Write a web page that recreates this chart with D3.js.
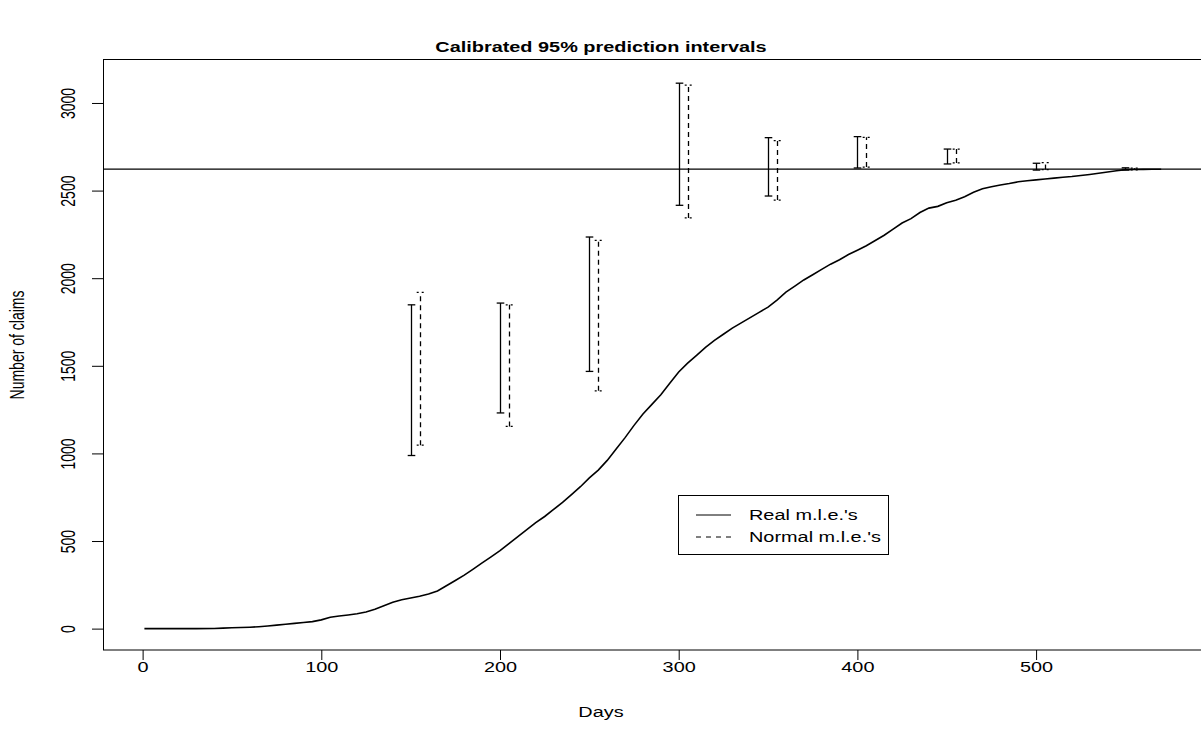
<!DOCTYPE html>
<html><head><meta charset="utf-8">
<script src="https://cdn.jsdelivr.net/npm/d3@7"></script>
<style>body{margin:0;background:#fff}svg{display:block}text{font-family:"Liberation Sans",Arial,sans-serif;fill:#000}</style>
</head><body>
<svg id="chart" width="1201" height="729"></svg>
<script>
// Cumulative claims curve
const days = [1,10,20,30,40,45,50,55,60,65,70,75,80,85,90,95,100,105,110,115,120,125,130,135,140,145,150,155,160,165,170,175,180,185,190,195,200,205,210,215,220,225,230,235,240,245,250,255,260,265,270,275,280,285,290,295,300,305,310,315,320,325,330,335,340,345,350,355,360,365,370,375,380,385,390,395,400,405,410,415,420,425,430,435,440,445,450,455,460,465,470,475,480,485,490,495,500,505,510,515,520,525,530,535,540,545,550,555,560,565,570];
const claims = [0,0,0,0,1,3,5,6,8,11,15,20,25,30,35,40,50,65,72,78,85,95,110,130,150,165,175,185,197,215,245,275,305,340,375,410,445,485,525,565,605,640,680,720,765,810,860,905,960,1025,1090,1160,1225,1280,1335,1400,1465,1515,1560,1605,1645,1680,1715,1745,1775,1805,1835,1875,1920,1955,1990,2020,2050,2080,2105,2135,2160,2185,2215,2245,2280,2315,2340,2375,2400,2410,2430,2445,2465,2490,2510,2522,2532,2540,2550,2556,2561,2566,2571,2576,2580,2586,2592,2599,2606,2613,2619,2620,2621,2622,2622];
// Prediction intervals
const realDays = [150,200,250,300,350,400,450,500,550];
const realLow  = [988,1231,1468,2416,2469,2629,2652,2617,2617];
const realHigh = [1848,1858,2235,3113,2802,2808,2737,2656,2630];
const normDays = [155,205,255,305,355,405,455,505,555];
const normLow  = [1047,1154,1357,2344,2446,2634,2658,2620,2618];
const normHigh = [1919,1848,2216,3102,2785,2804,2737,2660,2628];
const totalClaims = 2622;
const xTicks = [0,100,200,300,400,500];
const yTicks = [0,500,1000,1500,2000,2500,3000];
const legendLabels = ["Real m.l.e.'s","Normal m.l.e.'s"];

const SX = 1.42; // horizontal stretch of text in the reference
const svg = d3.select("#chart");
const x = d3.scaleLinear().domain([-22, 599]).range([103.3, 1213]);
const y = d3.scaleLinear().domain([-122, 3251]).range([650, 59]);

// title
svg.append("text").attr("transform","translate(601,52) scale("+SX+",1)")
  .attr("text-anchor","middle").style("font-weight","bold").style("font-size","14px")
  .text("Calibrated 95% prediction intervals");

// box
svg.append("rect").attr("x",103.5).attr("y",59.5).attr("width",1110).attr("height",590.5)
  .attr("fill","none").attr("stroke","#000").attr("stroke-width",1);

// x axis
const gx = svg.append("g").attr("transform","translate(0,650)")
  .call(d3.axisBottom(x).tickValues(xTicks).tickSize(10).tickSizeOuter(0).tickFormat(d3.format("d")));
gx.select(".domain").remove();
gx.selectAll("text").attr("y",0).attr("dy",0)
  .attr("transform","translate(0,22) scale("+SX+",1)").style("font-size","14px").attr("font-family",null);
gx.selectAll("line").attr("stroke","#000");

// y axis
const gy = svg.append("g").attr("transform","translate(103,0)")
  .call(d3.axisLeft(y).tickValues(yTicks).tickSize(11).tickSizeOuter(0).tickFormat(d3.format("d")));
gy.select(".domain").remove();
gy.selectAll("text").attr("x",0).attr("y",0).attr("dy",0).attr("text-anchor","middle")
  .attr("transform","translate(-28,0) scale("+SX+",1) rotate(-90)").style("font-size","14px").attr("font-family",null);

// axis titles
svg.append("text").attr("transform","translate(601,717) scale("+SX+",1)")
  .attr("text-anchor","middle").style("font-size","14px").text("Days");
svg.append("text").attr("transform","translate(24,345) scale("+SX+",1) rotate(-90)")
  .attr("text-anchor","middle").style("font-size","14px").text("Number of claims");

const plot = svg.append("g");
// horizontal line
plot.append("line").attr("x1",103).attr("x2",1201).attr("y1",y(totalClaims)).attr("y2",y(totalClaims))
  .attr("stroke","#000").attr("stroke-width",1.2);

// curve
const pts = days.map((d,i)=>[d,claims[i]]);
plot.append("path").datum(pts).attr("fill","none").attr("stroke","#000").attr("stroke-width",1.6)
  .attr("d", d3.line().x(d=>x(d[0])).y(d=>y(d[1])));

function bars(ds, lo, hi, dash){
  const g = plot.append("g").attr("stroke","#000").attr("stroke-width",1.3).attr("fill","none");
  ds.forEach((d,i)=>{
    const xx = Math.round(x(d))+0.5;
    const l = g.append("line").attr("x1",xx).attr("x2",xx).attr("y1",y(lo[i])).attr("y2",y(hi[i]));
    const c1 = g.append("line").attr("x1",xx-3.8).attr("x2",xx+3.8).attr("y1",y(lo[i])).attr("y2",y(lo[i]));
    const c2 = g.append("line").attr("x1",xx-3.8).attr("x2",xx+3.8).attr("y1",y(hi[i])).attr("y2",y(hi[i]));
    if(dash){ l.attr("stroke-dasharray","5,4"); c1.attr("stroke-dasharray","2,3"); c2.attr("stroke-dasharray","2,3"); }
  });
}
bars(realDays, realLow, realHigh, false);
bars(normDays, normLow, normHigh, true);

// legend
const lg = svg.append("g");
lg.append("rect").attr("x",678.5).attr("y",495.5).attr("width",210).attr("height",59)
  .attr("fill","#fff").attr("stroke","#000");
legendLabels.forEach((t,i)=>{
  const yy = 515 + i*22;
  lg.append("line").attr("x1",696).attr("x2",731).attr("y1",yy).attr("y2",yy)
    .attr("stroke","#000").attr("stroke-width",1).attr("stroke-dasharray", i? "5,5" : null);
  lg.append("text").attr("transform","translate(749,"+(yy+5)+") scale("+SX+",1)")
    .style("font-size","14px").text(t);
});
</script>
</body></html>
